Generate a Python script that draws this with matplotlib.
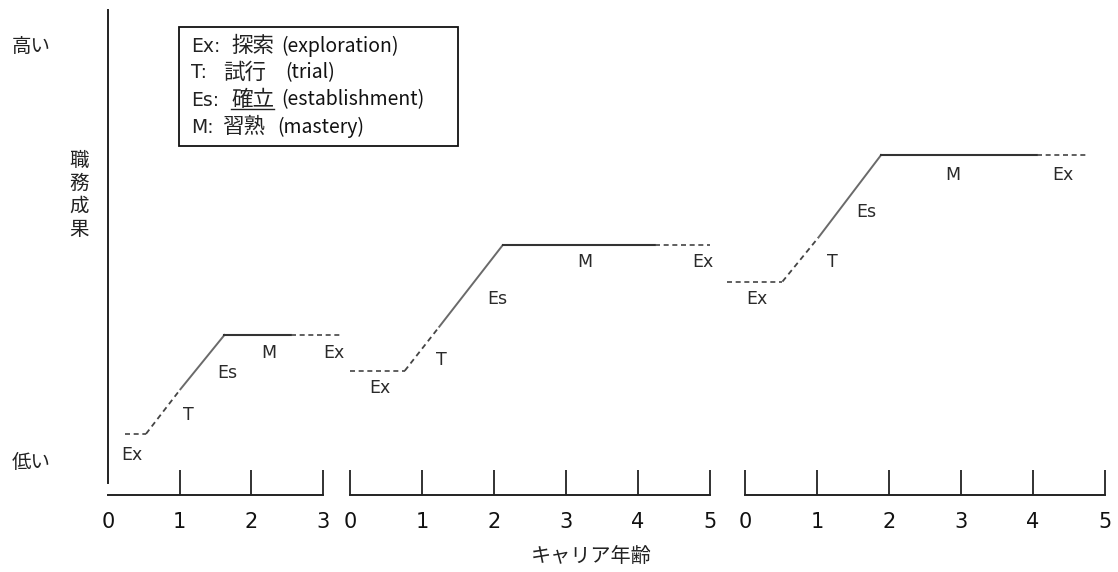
import matplotlib
matplotlib.use('Agg')
import matplotlib.pyplot as plt
from matplotlib.lines import Line2D
from matplotlib.patches import Rectangle

# ---------------- data ----------------
spans = [3, 5, 5]                      # career-age span of each cycle
phases = ['Ex', 'T', 'Es', 'M', 'Ex']  # phase of each segment between points

cycle1_x = [0.24, 0.53, 1.01, 1.625, 2.55, 3.25]
cycle1_y = [12.6, 12.6, 21.8, 33.0, 33.0, 33.0]
cycle2_x = [0.0, 0.76, 1.24, 2.12, 4.24, 5.0]
cycle2_y = [25.6, 25.6, 34.7, 51.5, 51.5, 51.5]
cycle3_x = [-0.25, 0.52, 1.02, 1.89, 4.05, 4.75]
cycle3_y = [44.0, 44.0, 53.1, 70.1, 70.1, 70.1]

label1_x = [0.33, 1.125, 1.66, 2.25, 3.15]
label1_y = [8.2, 16.4, 25.2, 29.3, 29.3]
label2_x = [0.42, 1.27, 2.04, 3.26, 4.9]
label2_y = [22.1, 27.8, 40.4, 48.0, 48.0]
label3_x = [0.17, 1.21, 1.68, 2.89, 4.42]
label3_y = [40.4, 48.0, 58.4, 66.0, 66.0]

legend_codes = ['Ex:', 'T:', 'Es:', 'M:']
legend_ja = ['探索', '試行', '確立', '習熟']
legend_en = ['(exploration)', '(trial)', '(establishment)', '(mastery)']
y_high, y_low = '高い', '低い'
y_title = '職務成果'
x_title = 'キャリア年齢'

# ---------------- style ----------------
W, H = 1118, 572
CJK = ['Noto Sans CJK JP', 'DejaVu Sans']
fig = plt.figure(figsize=(W / 100, H / 100), dpi=100)
fig.patch.set_facecolor('white')

def fx(px):
    return px / W

def fy(py):
    return 1 - py / H

axes_px = [(108, 323), (350, 710), (745, 1105)]
bottom_px, top_px = 495, 10

phase_style = {
    'Ex': dict(color='#444444', lw=1.2, linestyle=(0, (3, 2.2))),
    'T':  dict(color='#444444', lw=1.3, linestyle=(0, (3, 2.2))),
    'Es': dict(color='#6a6a6a', lw=1.4, linestyle='-'),
    'M':  dict(color='#333333', lw=1.5, linestyle='-'),
}

cycles = [(cycle1_x, cycle1_y, label1_x, label1_y),
          (cycle2_x, cycle2_y, label2_x, label2_y),
          (cycle3_x, cycle3_y, label3_x, label3_y)]

for i, ((l, r), span, (cx, cy, lx, ly)) in enumerate(zip(axes_px, spans, cycles)):
    ax = fig.add_axes([fx(l), fy(bottom_px), fx(r - l), (bottom_px - top_px) / H])
    ax.set_xlim(0, span)
    ax.set_ylim(0, 100)
    ax.patch.set_alpha(0)
    for s in ['top', 'right']:
        ax.spines[s].set_visible(False)
    ax.spines['bottom'].set_color('#222222')
    ax.spines['bottom'].set_linewidth(1.4)
    if i == 0:
        ax.spines['left'].set_color('#222222')
        ax.spines['left'].set_linewidth(1.4)
        ax.spines['left'].set_bounds(2.5, 100)
    else:
        ax.spines['left'].set_visible(False)
    ax.set_yticks([])
    ax.set_xticks(range(0, span + 1))
    ax.tick_params(axis='x', direction='in', length=18, width=1.3,
                   color='#222222', pad=12, labelsize=15, labelcolor='#111111')
    if i == 0:
        ax.xaxis.get_major_ticks()[0].tick1line.set_visible(False)
    for k, ph in enumerate(phases):
        ax.plot(cx[k:k + 2], cy[k:k + 2], clip_on=False, **phase_style[ph])
    for k, ph in enumerate(phases):
        ax.text(lx[k], ly[k], ph, fontsize=12.5, color='#2a2a2a',
                ha='center', va='center', family=['DejaVu Sans'])

# y-axis texts
fig.text(fx(31), fy(47), y_high, fontsize=14, ha='center', va='center',
         family=CJK, color='#222222')
fig.text(fx(31), fy(462), y_low, fontsize=14, ha='center', va='center',
         family=CJK, color='#222222')
fig.text(fx(79), fy(195), '\n'.join(y_title), fontsize=14, ha='center',
         va='center', family=CJK, color='#222222', linespacing=1.12)
fig.text(fx(591), fy(557), x_title, fontsize=14.5, ha='center', va='center',
         family=CJK, color='#222222')

# legend box
fig.patches.append(Rectangle((fx(179), fy(146)), fx(458) - fx(179),
                             fy(27) - fy(146), transform=fig.transFigure,
                             fill=False, edgecolor='#111111', lw=1.3))
code_x = 191
ja_x = [231, 223, 231, 223]
en_x = [281, 285, 281, 277]
fig.canvas.draw()
rend = fig.canvas.get_renderer()
for j in range(len(legend_codes)):
    yc = fy(46 + 27 * j)
    fig.text(fx(code_x), yc, legend_codes[j], fontsize=13.5, ha='left',
             va='center', family=['DejaVu Sans'], color='#222222')
    tj = fig.text(fx(ja_x[j]), yc, legend_ja[j], fontsize=15.5, ha='left',
                  va='center', family=CJK, color='#222222')
    fig.text(fx(en_x[j]), yc, legend_en[j], fontsize=14, ha='left',
             va='center', family=CJK, color='#111111')
    if legend_ja[j] == '確立':
        e = tj.get_window_extent(rend)
        uy = e.y0 + 2
        fig.lines.append(Line2D([e.x0 / W, e.x1 / W], [uy / H, uy / H],
                                transform=fig.transFigure, color='#222222',
                                lw=1))

fig.savefig('out.png', dpi=100)
